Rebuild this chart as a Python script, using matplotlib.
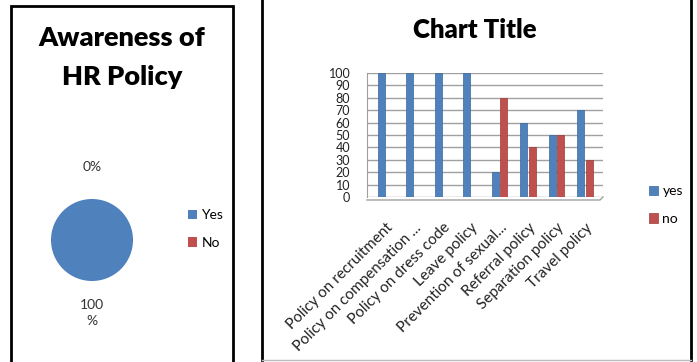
import matplotlib
matplotlib.use("Agg")
import matplotlib.pyplot as plt
from matplotlib.patches import Rectangle
from matplotlib.lines import Line2D

W, H = 697, 362

# ---- data ----
pie_labels = ["Yes", "No"]
pie_values = [100, 0]

categories = ["Policy on recruitment", "Policy on compensation ...", "Policy on dress code",
              "Leave policy", "Prevention of sexual...", "Referral policy",
              "Separation policy", "Travel policy"]
yes_vals = [100, 100, 100, 100, 20, 60, 50, 70]
no_vals = [0, 0, 0, 0, 80, 40, 50, 30]
yticks = list(range(0, 101, 10))

BLUE = "#4F81BD"
RED = "#C0504D"
FONT = ["Lato", "DejaVu Sans"]
plt.rcParams["font.family"] = FONT

fig = plt.figure(figsize=(W / 100, H / 100), dpi=100)

def fx(px):
    return px / W

def fy(py):
    return 1 - py / H

# panel borders
fig.add_artist(Rectangle((fx(11), fy(366)), fx(222), (366 - 6) / H, transform=fig.transFigure,
                         fill=False, ec="black", lw=2))
fig.add_artist(Line2D([fx(262), fx(262)], [fy(-5), fy(360)], transform=fig.transFigure, color="black", lw=2))
fig.add_artist(Line2D([fx(691), fx(691)], [fy(-5), fy(360)], transform=fig.transFigure, color="black", lw=2))
fig.add_artist(Line2D([fx(262), fx(691)], [fy(360), fy(360)], transform=fig.transFigure, color="#bbbbbb", lw=1))

# ---- pie ----
fig.text(fx(122), fy(38), "Awareness of", ha="center", va="center", fontsize=19.5, fontweight="heavy")
fig.text(fx(122), fy(77), "HR Policy", ha="center", va="center", fontsize=19.5, fontweight="heavy")

r = 41
pax = fig.add_axes([fx(92 - r), fy(240 + r), fx(2 * r), 2 * r / H])
wedges, texts, autotexts = pax.pie(pie_values, colors=[BLUE, RED], startangle=90, counterclock=False,
                                   autopct="%1.0f%%", pctdistance=1.78, radius=1.0,
                                   textprops=dict(fontsize=10, color="#333333"))
for t in autotexts:
    if t.get_text() == "100%":
        t.set_text("100\n%")
        t.set_linespacing(1.4)
pax.set_aspect("equal")
pax.set_xlim(-1, 1)
pax.set_ylim(-1, 1)
pax.axis("off")
pax.legend(wedges, pie_labels, loc="center left", bbox_to_anchor=(fx(175), fy(229)),
           bbox_transform=fig.transFigure, frameon=False, fontsize=10, handlelength=0.7,
           handleheight=0.7, handletextpad=0.3, labelspacing=1.1)

# ---- bar chart ----
fig.text(fx(475), fy(30), "Chart Title", ha="center", va="center", fontsize=18.5, fontweight="heavy")

left, right, top, bottom = 367, 603, 73, 197
ax = fig.add_axes([fx(left), fy(bottom), fx(right - left), (bottom - top) / H])
x = list(range(len(categories)))
ax.bar([i - 0.15 for i in x], yes_vals, width=0.24, color=BLUE, edgecolor="#3a6699", lw=0.5, zorder=3, label="yes")
ax.bar([i + 0.15 for i in x], no_vals, width=0.24, color=RED, edgecolor="#9a3a38", lw=0.5, zorder=3, label="no")
ax.set_xlim(-0.65, 7.63)
ax.set_ylim(0, 100)
ax.set_yticks(yticks)
ax.set_yticklabels([str(v) for v in yticks], fontsize=9, color="#222222")
ax.tick_params(axis="y", length=0, pad=12)
ax.grid(axis="y", color="#a0a0a0", lw=1, zorder=0)
for s in ["top", "right", "bottom"]:
    ax.spines[s].set_visible(False)
ax.spines["left"].set_color("#a0a0a0")
ax.set_xticks(x)
ax.set_xticklabels(categories, rotation=45, ha="right", rotation_mode="anchor", fontsize=11, color="#222222")
ax.tick_params(axis="x", length=0, pad=17)
# floor
fig.add_artist(Line2D([fx(367), fx(600), fx(603)], [fy(200), fy(200), fy(197)],
                      transform=fig.transFigure, color="#a0a0a0", lw=1))

ax.legend(loc="center left", bbox_to_anchor=(fx(636), fy(205)), bbox_transform=fig.transFigure,
          frameon=False, fontsize=10, handlelength=0.7, handleheight=0.7, handletextpad=0.3,
          labelspacing=1.1)

fig.savefig("out.png", dpi=100)
